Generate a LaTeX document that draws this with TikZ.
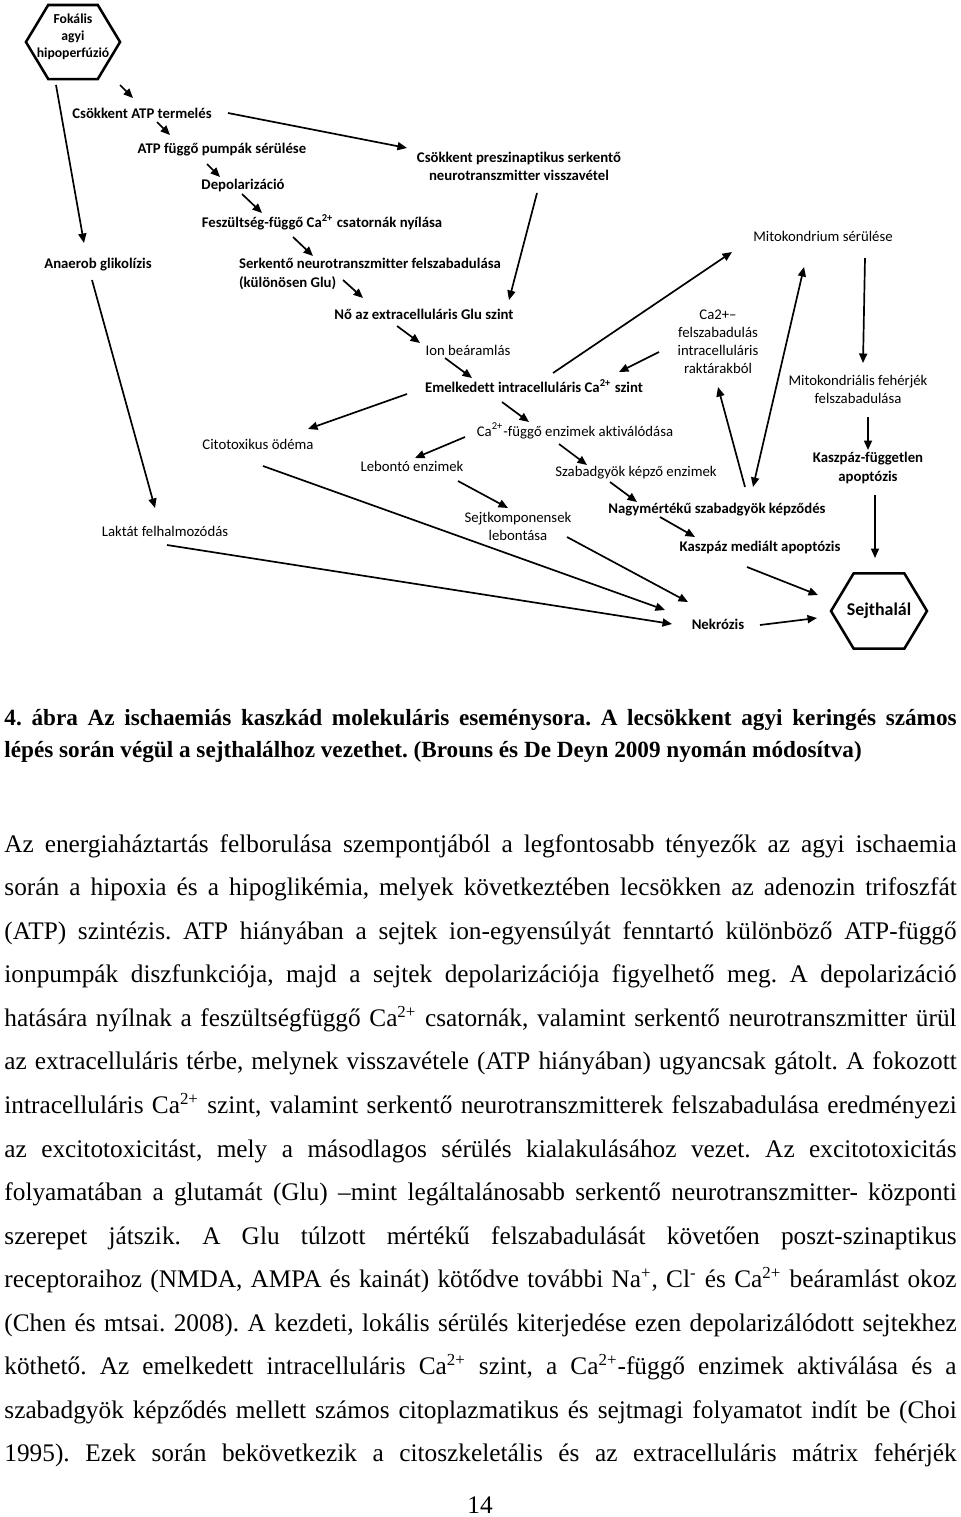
\documentclass[tikz,border=0pt]{standalone}
\usepackage{fontspec}
\setmainfont{Liberation Serif}
\newfontfamily\labfont[Ligatures={TeX,NoCommon}]{Carlito}
\usetikzlibrary{arrows.meta,calc,shapes.symbols}
\frenchspacing

\newlength\bodywd
\setlength\bodywd{15.867cm}
\newcommand\labsize{\labfont\fontsize{7pt}{8.6pt}\selectfont}

\begin{document}
\begin{tikzpicture}[x=0.016667cm,y=-0.016667cm,
    lab/.style={font=\labsize,inner sep=0pt,align=center},
    labbold/.style={lab,font=\labsize\bfseries},
    hexbox/.style={draw,line width=1.2pt,signal,signal to=east and west,
      signal pointer angle=118,inner sep=0pt},
    arr/.style={-{Triangle[length=4.5pt,width=3.8pt]},line width=0.8pt},
    arrboth/.style={{Triangle[length=4.5pt,width=3.8pt]}-{Triangle[length=4.5pt,width=3.8pt]},line width=0.8pt},
    bodyline/.style={anchor=base west,inner sep=0pt,font=\fontsize{12pt}{14pt}\selectfont},
    captline/.style={bodyline,font=\fontsize{11pt}{13pt}\selectfont\bfseries}]
  \useasboundingbox (0,0) rectangle (960,1517);

  % diagram
  \node[hexbox,minimum width=44.6pt,minimum height=35.1pt] (fok) at (73,42) {};
  \node[lab,font=\labfont\bfseries\fontsize{6.5pt}{8pt}\selectfont] (foktext) at (73,37) {Fokális\\agyi\\hipoperfúzió};
  \node[hexbox,minimum width=45.5pt,minimum height=35.6pt] (sejth) at (879,611) {};
  \node[lab,font=\labfont\bfseries\fontsize{8.5pt}{10pt}\selectfont] (sejthtext) at (sejth) {Sejthalál};

  \node[labbold] (csatp) at (142,113) {Csökkent ATP termelés};
  \node[labbold] (pumpa) at (222,150) {ATP függő pumpák sérülése};
  \node[labbold] (depol) at (243,185) {Depolarizáció};
  \node[labbold] (fesz) at (322,222) {Feszültség-függő Ca\textsuperscript{2+} csatornák nyílása};
  \node[labbold] (anaer) at (98,265) {Anaerob glikolízis};
  \node[labbold,align=left] (serk) at (370,274) {Serkentő neurotranszmitter felszabadulása\\(különösen Glu)};
  \node[labbold] (presz) at (519,166) {Csökkent preszinaptikus serkentő\\neurotranszmitter visszavétel};
  \node[labbold] (glu) at (424,314) {Nő az extracelluláris Glu szint};
  \node[lab] (ion) at (468,350) {Ion beáramlás};
  \node[labbold] (emel) at (534,386) {Emelkedett intracelluláris Ca\textsuperscript{2+} szint};
  \node[lab] (mito) at (823,236) {Mitokondrium sérülése};
  \node[lab] (raktar) at (718,342) {Ca2+–\\felszabadulás\\intracelluláris\\raktárakból};
  \node[lab] (mitofeh) at (858,389) {Mitokondriális fehérjék\\felszabadulása};
  \node[labbold] (kaszfug) at (868,468) {Kaszpáz-független\\apoptózis};
  \node[lab] (cafug) at (575,431) {Ca\textsuperscript{2+}-függő enzimek aktiválódása};
  \node[lab] (cito) at (258,444) {Citotoxikus ödéma};
  \node[lab] (lebont) at (412,466) {Lebontó enzimek};
  \node[lab] (szabad) at (636,473) {Szabadgyök képző enzimek};
  \node[lab] (sejtkomp) at (518,526) {Sejtkomponensek\\lebontása};
  \node[labbold] (nagy) at (717,510) {Nagymértékű szabadgyök képződés};
  \node[labbold] (kaszmed) at (760,547) {Kaszpáz mediált apoptózis};
  \node[lab] (laktat) at (165,531) {Laktát felhalmozódás};
  \node[labbold] (nekr) at (718,624) {Nekrózis};

  \path[arr] ($(fok)+(-17,43)$) edge ($(anaer)+(-14,-22)$)
             ($(fok)+(47,43)$) edge ($(csatp)+(-9,-15)$)
             ($(csatp)+(86,0)$) edge ($(presz)+(-112,-18)$)
             ($(csatp)+(15,9)$) edge ($(pumpa)+(-52,-15)$)
             ($(pumpa)+(-15,14)$) edge ($(depol)+(-23,-8)$)
             ($(depol)+(-1,9)$) edge ($(fesz)+(-60,-9)$)
             ($(fesz)+(-29,15)$) edge ($(serk)+(-57,-18)$)
             ($(serk)+(-27,6)$) edge ($(glu)+(-61,-16)$)
             ($(presz)+(18,27)$) edge ($(glu)+(85,-14)$)
             ($(anaer)+(-6,15)$) edge ($(laktat)+(-10,-23)$)
             ($(glu)+(-27,12)$) edge ($(ion)+(-48,-7)$)
             ($(ion)+(-23,8)$) edge ($(emel)+(-62,-8)$)
             ($(emel)+(19,-13)$) edge ($(mito)+(-91,16)$)
             ($(raktar)+(-59,10)$) edge ($(emel)+(85,-14)$)
             ($(mito)+(42,22)$) edge ($(mitofeh)+(5,-26)$)
             ($(mitofeh)+(10,28)$) edge ($(kaszfug)+(0,-18)$)
             ($(kaszfug)+(7,27)$) edge ($(sejth)+(-4,-53)$)
             ($(emel)+(-32,16)$) edge ($(cafug)+(-46,-9)$)
             ($(emel)+(-127,8)$) edge ($(cito)+(50,-15)$)
             ($(cafug)+(-110,6)$) edge ($(lebont)+(3,-8)$)
             ($(lebont)+(46,15)$) edge ($(sejtkomp)+(-10,-18)$)
             ($(cafug)+(-16,13)$) edge ($(szabad)+(-49,-8)$)
             ($(szabad)+(-26,9)$) edge ($(nagy)+(-80,-8)$)
             ($(nagy)+(-57,7)$) edge ($(kaszmed)+(-65,-10)$)
             ($(kaszmed)+(-13,20)$) edge ($(sejth)+(-61,-16)$)
             ($(nekr)+(42,1)$) edge ($(sejth)+(-62,7)$)
             ($(sejtkomp)+(49,11)$) edge ($(nekr)+(-30,-22)$)
             ($(cito)+(5,22)$) edge ($(nekr)+(-53,-14)$)
             ($(laktat)+(2,14)$) edge ($(nekr)+(-46,0)$)
             ($(nagy)+(28,-23)$) edge ($(raktar)+(0,45)$);
  \path[arrboth] ($(nagy)+(36,-23)$) edge ($(mito)+(-19,31)$);

  % caption and text
  \node[captline] (capt1) at (4,725)
    {\makebox[\bodywd][s]{4. ábra Az ischaemiás kaszkád molekuláris eseménysora. A lecsökkent agyi keringés számos}};
  \node[captline] (capt2) at (4,757)
    {lépés során végül a sejthalálhoz vezethet. (Brouns és De Deyn 2009 nyomán módosítva)};

  \foreach \ln [count=\i] in {
      {Az energiaháztartás felborulása szempontjából a legfontosabb tényezők az agyi ischaemia},
      {során a hipoxia és a hipoglikémia, melyek következtében lecsökken az adenozin trifoszfát},
      {(ATP) szintézis. ATP hiányában a sejtek ion-egyensúlyát fenntartó különböző ATP-függő},
      {ionpumpák diszfunkciója, majd a sejtek depolarizációja figyelhető meg. A depolarizáció},
      {hatására nyílnak a feszültségfüggő Ca\textsuperscript{2+} csatornák, valamint serkentő neurotranszmitter ürül},
      {az extracelluláris térbe, melynek visszavétele (ATP hiányában) ugyancsak gátolt. A fokozott},
      {intracelluláris Ca\textsuperscript{2+} szint, valamint serkentő neurotranszmitterek felszabadulása eredményezi},
      {az excitotoxicitást, mely a másodlagos sérülés kialakulásához vezet. Az excitotoxicitás},
      {folyamatában a glutamát (Glu) –mint legáltalánosabb serkentő neurotranszmitter- központi},
      {szerepet játszik. A Glu túlzott mértékű felszabadulását követően poszt-szinaptikus},
      {receptoraihoz (NMDA, AMPA és kainát) kötődve további Na\textsuperscript{+}, Cl\textsuperscript{-} és Ca\textsuperscript{2+} beáramlást okoz},
      {(Chen és mtsai. 2008). A kezdeti, lokális sérülés kiterjedése ezen depolarizálódott sejtekhez},
      {köthető. Az emelkedett intracelluláris Ca\textsuperscript{2+} szint, a Ca\textsuperscript{2+}-függő enzimek aktiválása és a},
      {szabadgyök képződés mellett számos citoplazmatikus és sejtmagi folyamatot indít be (Choi},
      {1995). Ezek során bekövetkezik a citoszkeletális és az extracelluláris mátrix fehérjék}}
    \node[bodyline] (body\i) at (4,{852+43.57*(\i-1)}) {\makebox[\bodywd][s]{\ln}};

  \node[bodyline,anchor=base] (pagenum) at (480,1513) {14};
\end{tikzpicture}
\end{document}
